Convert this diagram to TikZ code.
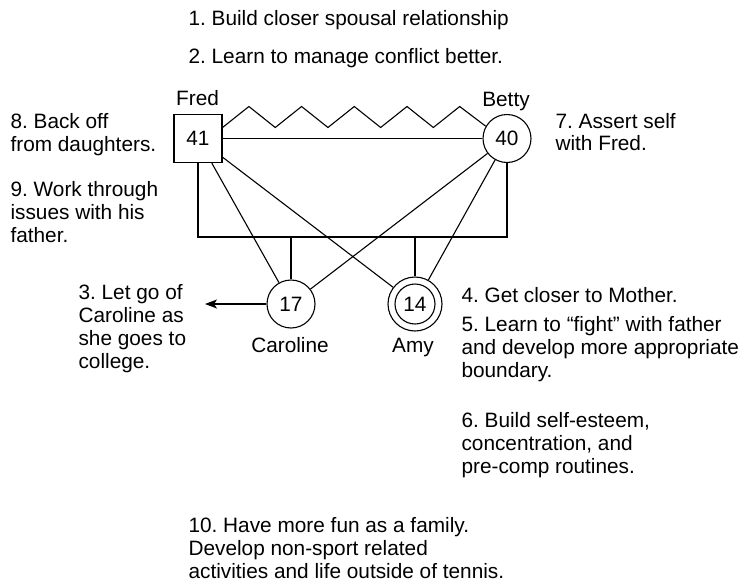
\documentclass[tikz,border=0pt]{standalone}
\usepackage{fontspec}
\setmainfont{Liberation Sans}
\usetikzlibrary{arrows.meta,positioning}
\frenchspacing

\begin{document}
\begin{tikzpicture}[x=1pt,y=-1pt,
  font=\fontsize{20.8}{22.7}\selectfont,
  line width=1.1pt,
  person/.style={draw,inner sep=0pt,minimum size=48pt},
  male/.style={person,rectangle},
  female/.style={person,circle},
  note/.style={anchor=base west,align=left,inner sep=0pt},
  tag/.style={anchor=base,inner sep=0pt},
  arr/.style={-{Stealth[length=12pt,width=9pt,inset=3pt]}}]
\useasboundingbox (0,0) rectangle (748,584);

% parents
\node[male] (fred) at (198,138.5) {41};
\node[female] (betty) at (507,138.5) {40};
\node[tag] (fredname) at (197.5,105) {Fred};
\node[tag] (bettyname) at (506,106) {Betty};

% children
\node[female] (caroline) at (291,304) {17};
\node[female,minimum size=54pt] (amy) at (415,304) {14};
\draw (amy) circle (20pt);
\node[tag] (carolinename) at (290,352) {Caroline};
\node[tag] (amyname) at (413,352) {Amy};

% marriage, conflict and sibling lines
\draw (fred.east) -- (betty.west);
\draw ([yshift=11pt]fred.east) \foreach \k in {1,...,4}{ -- ++(26.35,-21) -- ++(26.35,21)}
  -- ++(26.35,-21) -- (betty.150);
\coordinate (bar) at (0,237);
\draw (fred.south) -- (fred.south |- bar) -| (betty.south);
\draw (caroline.north) -- (caroline.north |- bar);
\draw (amy.north) -- (amy.north |- bar);

% triangles
\draw (fred) -- (caroline);
\draw (fred) -- (amy);
\draw (betty) -- (caroline);
\draw (betty) -- (amy);

% Caroline leaving home
\coordinate (away) at (205,304);
\draw[arr] (caroline.west) -- (away);

% goals (multi-line notes sit on their last baseline)
\node[note] (g1) at (188,25) {1. Build closer spousal relationship};
\node[note] (g2) at (188,63) {2. Learn to manage conflict better.};
\node[note] (g3) at (78,368) {3. Let go of\\Caroline as\\she goes to\\college.};
\node[note] (g4) at (461,302) {4. Get closer to Mother.};
\node[note] (g5) at (461,377) {5. Learn to “fight” with father\\and develop more appropriate\\boundary.};
\node[note] (g6) at (461,473) {6. Build self-esteem,\\concentration, and\\pre-comp routines.};
\node[note] (g7) at (555,150.7) {7. Assert self\\with Fred.};
\node[note] (g8) at (10,151) {8. Back off\\from daughters.};
\node[note] (g9) at (10,242) {9. Work through\\issues with his\\father.};
\node[note] (g10) at (188,578) {10. Have more fun as a family.\\Develop non-sport related\\activities and life outside of tennis.};
\end{tikzpicture}
\end{document}
